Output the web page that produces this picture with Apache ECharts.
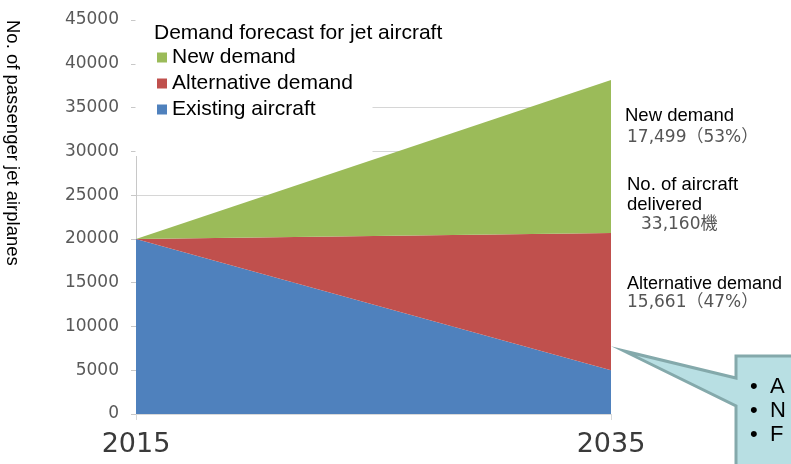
<!DOCTYPE html>
<html>
<head>
<meta charset="utf-8">
<script src="https://cdn.jsdelivr.net/npm/echarts@6/dist/echarts.min.js"></script>
<style>
  html, body { margin: 0; padding: 0; background: #fff; }
  #chart { width: 791px; height: 464px; }
</style>
</head>
<body>
<div id="chart"></div>
<script>
// Forecast years and stacked demand components (passenger jet airplanes)
const years = ['2015', '2035'];
const existingAircraft = [20000, 5000];
const alternativeDemand = [0, 15661];
const newDemand = [0, 17499];
const yTicks = { min: 0, max: 45000, step: 5000 };

const seriesNames = ['New demand', 'Alternative demand', 'Existing aircraft'];
const colors = { newD: '#9BBB59', alt: '#C0504D', exist: '#4F81BD' };

function fmt(n) {
  return String(n).replace(/\B(?=(\d{3})+(?!\d))/g, ',');
}

const last = years.length - 1;
const delivered = newDemand[last] + alternativeDemand[last];
const newPct = Math.round(newDemand[last] / delivered * 100);
const altPct = Math.round(alternativeDemand[last] / delivered * 100);

const chart = echarts.init(document.getElementById('chart'));

const sans = 'Liberation Sans, Arial, sans-serif';
const dv = 'DejaVu Sans, Noto Sans CJK JP, sans-serif';

function areaSeries(name, data, color) {
  return {
    name: name,
    type: 'line',
    stack: 'fleet',
    data: data,
    symbol: 'none',
    lineStyle: { width: 0 },
    itemStyle: { color: color },
    areaStyle: { color: color, opacity: 1 },
    silent: true
  };
}

chart.setOption({
  animation: false,
  color: [colors.newD, colors.alt, colors.exist],
  grid: { left: 136, right: 180, top: 20, bottom: 50 },
  title: {
    text: 'Demand forecast for jet aircraft',
    left: 154, top: 23, padding: 0,
    z: 10,
    textStyle: { fontFamily: sans, fontSize: 21, fontWeight: 'normal', color: '#000' }
  },
  legend: {
    orient: 'vertical',
    left: 157, top: 47,
    padding: 0,
    itemWidth: 10, itemHeight: 10, itemGap: 5,
    icon: 'rect',
    z: 10,
    data: seriesNames,
    textStyle: { fontFamily: sans, fontSize: 21, color: '#000', lineHeight: 21 }
  },
  xAxis: {
    type: 'category',
    data: years,
    boundaryGap: false,
    axisLine: { lineStyle: { color: '#d9d9d9' } },
    axisTick: { show: true, length: 6, lineStyle: { color: '#d9d9d9' } },
    axisLabel: { fontFamily: dv, fontSize: 27, color: '#3a3a3a', margin: 17 }
  },
  yAxis: {
    type: 'value',
    min: yTicks.min, max: yTicks.max, interval: yTicks.step,
    axisLine: { show: true, lineStyle: { color: '#c8c8c8' } },
    axisTick: { show: true, length: 5, lineStyle: { color: '#c8c8c8' } },
    splitLine: { show: true, lineStyle: { color: '#d6d6d6' } },
    axisLabel: { fontFamily: dv, fontSize: 17, color: '#595959', margin: 17,
                 formatter: function (v) { return String(v); } }
  },
  series: [
    areaSeries(seriesNames[2], existingAircraft, colors.exist),
    areaSeries(seriesNames[1], alternativeDemand, colors.alt),
    areaSeries(seriesNames[0], newDemand, colors.newD)
  ],
  graphic: [
    // white panel behind the legend
    { type: 'rect', z: 3, shape: { x: 135.5, y: 8, width: 237, height: 148 }, style: { fill: '#fff' } },
    // clear strip across the top of the plot
    { type: 'rect', z: 3, shape: { x: 372, y: 8, width: 245, height: 66 }, style: { fill: '#fff' } },
    // vertical axis title
    {
      type: 'text', x: 12, y: 20, rotation: -Math.PI / 2, z: 5,
      style: { text: 'No. of passenger jet airplanes', fontFamily: sans, fontSize: 18.5,
               fill: '#000', textAlign: 'left', textVerticalAlign: 'middle' }
    },
    // annotations at the 2035 end of the stack
    { type: 'text', x: 625, y: 116, z: 5,
      style: { text: 'New demand', fontFamily: sans, fontSize: 18.5, fill: '#000', textVerticalAlign: 'middle' } },
    { type: 'text', x: 627, y: 138, z: 5,
      style: { text: fmt(newDemand[last]) + '（' + newPct + '%）', fontFamily: dv, fontSize: 17, fill: '#555', textVerticalAlign: 'middle' } },
    { type: 'text', x: 627, y: 185, z: 5,
      style: { text: 'No. of aircraft', fontFamily: sans, fontSize: 18.5, fill: '#000', textVerticalAlign: 'middle' } },
    { type: 'text', x: 627, y: 205, z: 5,
      style: { text: 'delivered', fontFamily: sans, fontSize: 18.5, fill: '#000', textVerticalAlign: 'middle' } },
    { type: 'text', x: 641, y: 225, z: 5,
      style: { text: fmt(delivered) + '機', fontFamily: dv, fontSize: 17, fill: '#555', textVerticalAlign: 'middle' } },
    { type: 'text', x: 627, y: 284, z: 5,
      style: { text: 'Alternative demand', fontFamily: sans, fontSize: 18, fill: '#000', textVerticalAlign: 'middle' } },
    { type: 'text', x: 627, y: 303, z: 5,
      style: { text: fmt(alternativeDemand[last]) + '（' + altPct + '%）', fontFamily: dv, fontSize: 17, fill: '#555', textVerticalAlign: 'middle' } },
    // callout box, partly outside the frame
    {
      type: 'polygon', z: 6,
      shape: { points: [[736, 356], [800, 356], [800, 475], [736, 475], [736, 406], [624, 351], [736, 378]] },
      style: { fill: '#B8DFE3', stroke: '#84A9AB', lineWidth: 3, lineJoin: 'miter' }
    },
    { type: 'text', x: 750, y: 387, z: 7,
      style: { text: '•  A', fontFamily: sans, fontSize: 22, fill: '#000', textVerticalAlign: 'middle' } },
    { type: 'text', x: 750, y: 411, z: 7,
      style: { text: '•  N', fontFamily: sans, fontSize: 22, fill: '#000', textVerticalAlign: 'middle' } },
    { type: 'text', x: 750, y: 435, z: 7,
      style: { text: '•  F', fontFamily: sans, fontSize: 22, fill: '#000', textVerticalAlign: 'middle' } }
  ]
});
</script>
</body>
</html>
